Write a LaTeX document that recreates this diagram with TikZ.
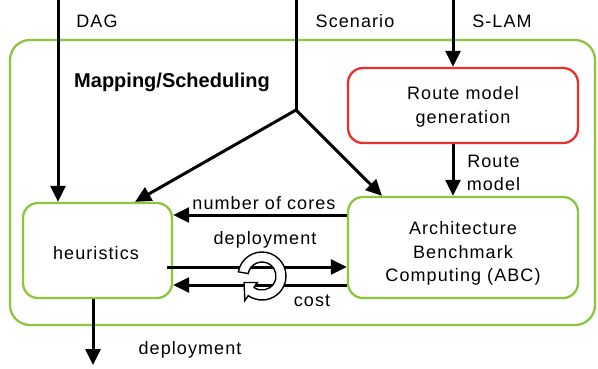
\documentclass[tikz,border=0pt]{standalone}
\usepackage{fontspec}
\setmainfont{Liberation Sans}
\newfontfamily\lblfont[LetterSpace=6]{Liberation Sans}
\usetikzlibrary{arrows.meta,calc}
\definecolor{boxgreen}{RGB}{140,198,63}
\definecolor{boxred}{RGB}{232,48,45}
\begin{document}
\begin{tikzpicture}[x=1pt,y=-1pt,
  gbox/.style={draw=boxgreen, line width=2.3pt, rounded corners=15pt, inner sep=0pt},
  rbox/.style={draw=boxred, line width=2.3pt, rounded corners=15pt, inner sep=0pt},
  arr/.style={line width=3pt, -{Triangle[length=16pt,width=15pt]}},
  plainline/.style={line width=3pt},
  txt/.style={font=\lblfont\fontsize{18}{23.5}\selectfont, inner sep=0pt},
  title/.style={font=\bfseries\fontsize{20}{24}\selectfont, inner sep=0pt}]
\useasboundingbox (0,0) rectangle (598,368);
\fill[white] (0,0) rectangle (598,368);

% boxes
\node[gbox, rounded corners=20pt, minimum width=585pt, minimum height=285pt] (outer) at (302.5,182.5) {};
\node[rbox, minimum width=230pt, minimum height=75pt] (route) at (463,105.5) {};
\node[gbox, minimum width=149pt, minimum height=95pt] (heur) at (97.5,250.5) {};
\node[gbox, minimum width=230pt, minimum height=101pt] (abc) at (463,247.5) {};

% box texts
\node[txt, align=center] (routetxt) at (463,107) {Route model\\generation};
\node[txt, anchor=base] (heurtxt) at (96,259) {heuristics};
\node[txt, align=center] (abctxt) at (463,253.8) {Architecture\\Benchmark\\Computing (ABC)};
\node[title, anchor=base] (maptitle) at (172,87) {Mapping/Scheduling};

% labels
\node[txt, anchor=base] (dag) at (97,27) {DAG};
\node[txt, anchor=base] (scen) at (355,27) {Scenario};
\node[txt, anchor=base] (slam) at (502,27) {S-LAM};
\node[txt, align=center] (routemodel) at (493.5,173) {Route\\model};
\node[txt, anchor=base] (cores) at (264,209) {number of cores};
\node[txt, anchor=base] (deplab) at (265,244) {deployment};
\node[txt, anchor=base] (costlab) at (312,306.5) {cost};
\node[txt, anchor=base] (outlab) at (190,354) {deployment};

% coordinates
\coordinate (dagtop) at (58,0);
\coordinate (scentop) at (296,0);
\coordinate (J) at (296,110);
\coordinate (slamtop) at (453,0);
\coordinate (ycores) at (0,215);
\coordinate (ydep) at (0,267);
\coordinate (ycost) at (0,285);
\coordinate (outend) at (93,365);

% connectors
\draw[arr] (dagtop) -- (dagtop |- heur.north);
\draw[plainline] (scentop) -- (J);
\draw[arr] (J) -- ($(heur.north)+(37.5,0)$);
\draw[arr] (J) -- ($(abc.north)+(-81,0)$);
\draw[arr] (slamtop) -- (slamtop |- route.north);
\draw[arr] ($(route.south)+(-10,0)$) -- ($(abc.north)+(-10,0)$);
\draw[arr] (abc.west |- ycores) -- (heur.east |- ycores);
\draw[arr] ($(heur.east |- ydep)+(-6,0)$) -- (abc.west |- ydep);
\draw[arr] (abc.west |- ycost) -- (heur.east |- ycost);
\draw[arr] (outend |- heur.south) -- (outend);

% loop symbol
\coordinate (lc) at (262,276);
\filldraw[fill=white, draw=black, line width=1.4pt, line join=miter]
  ($(lc)+(-170:24)$) arc[start angle=-170, end angle=125, radius=24]
  -- ($(lc)+(125:30)$) -- ($(lc)+(160:19)$) -- ($(lc)+(125:8)$)
  -- ($(lc)+(125:14)$) arc[start angle=125, end angle=-170, radius=14] -- cycle;
\end{tikzpicture}
\end{document}
